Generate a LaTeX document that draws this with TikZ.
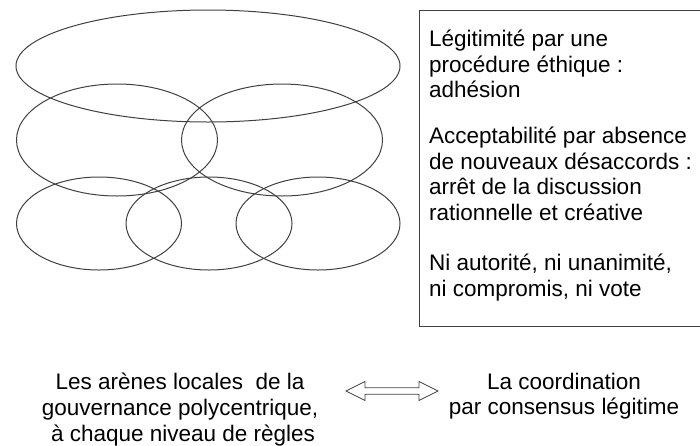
\documentclass[tikz,border=0pt]{standalone}
\usepackage{fontspec}
\setmainfont{Liberation Sans}
\begin{document}
\begin{tikzpicture}[x=1pt,y=-1pt,
  ring/.style={draw=black!75, line width=1pt},
  frame/.style={draw=black!75, line width=1pt},
  boxtxt/.style={font=\fontsize{22.5}{25.5}\selectfont, inner sep=0pt, align=left, anchor=north west},
  captxt/.style={font=\fontsize{22.5}{26}\selectfont, inner sep=0pt, align=center, anchor=north},
  bigarrow/.style={draw=black!75, line width=0.8pt, fill=white}]
\useasboundingbox (0,0) rectangle (700,445);
\clip (0,0) rectangle (700,445);
% ellipses
\draw[ring] (208,66) ellipse [x radius=192pt, y radius=56pt];
\draw[ring] (117,140) ellipse [x radius=100.5pt, y radius=56pt];
\draw[ring] (282,140) ellipse [x radius=100.5pt, y radius=56pt];
\draw[ring] (99,223.5) ellipse [x radius=82.5pt, y radius=46.5pt];
\draw[ring] (209,223.5) ellipse [x radius=83pt, y radius=46.5pt];
\draw[ring] (318,223.5) ellipse [x radius=82pt, y radius=46.5pt];
% box
\draw[frame] (419,10) rectangle (706,326);
\node[boxtxt] (p1) at (429,26.5) {\rule{0pt}{20pt}Légitimité par une\\procédure éthique :\\adhésion};
\node[boxtxt] (p2) at (429,123.5) {\rule{0pt}{20pt}Acceptabilité par absence\\de nouveaux désaccords :\\arrêt de la discussion\\rationnelle et créative};
\node[boxtxt] (p3) at (429,250.7) {\rule{0pt}{20pt}Ni autorité, ni unanimité,\\ni compromis, ni vote};
% bottom texts
\node[captxt] (left) at (180,369) {\rule{0pt}{20pt}Les arènes locales\ \ de la\\gouvernance polycentrique,\\\hspace*{6pt}à chaque niveau de règles};
\node[captxt, font=\fontsize{22.5}{25}\selectfont] (right) at (564,369) {\rule{0pt}{20pt}La coordination\\par consensus légitime};
% double arrow
\draw[bigarrow] (346,391) -- (365,381.5) -- (365,387.7) -- (419,387.7) -- (419,381.5)
  -- (438,391) -- (419,400.5) -- (419,394.3) -- (365,394.3) -- (365,400.5) -- cycle;
\end{tikzpicture}
\end{document}
